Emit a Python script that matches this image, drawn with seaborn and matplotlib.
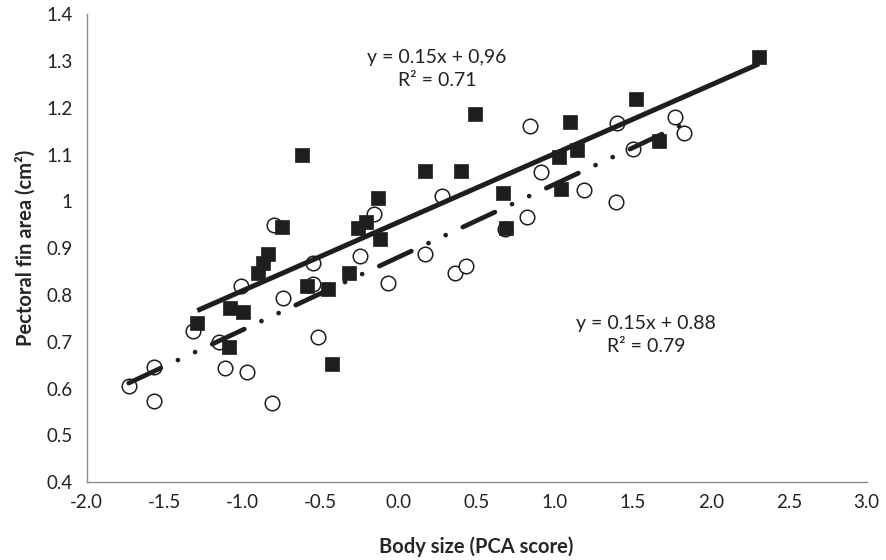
import numpy as np
import pandas as pd
import seaborn as sns
import matplotlib.pyplot as plt

# filled squares (solid trend line)
sq_x = [-1.29, -1.08, -1.00, -1.09, -0.90, -0.87, -0.84, -0.75, -0.62, -0.59,
        -0.45, -0.43, -0.32, -0.26, -0.21, -0.13, -0.12, 0.17, 0.40, 0.49,
        0.69, 0.67, 1.03, 1.04, 1.10, 1.14, 1.52, 1.67, 2.31]
sq_y = [0.740, 0.773, 0.764, 0.688, 0.847, 0.869, 0.887, 0.945, 1.099, 0.820,
        0.812, 0.653, 0.848, 0.943, 0.957, 1.008, 0.920, 1.065, 1.065, 1.187,
        0.944, 1.019, 1.094, 1.026, 1.170, 1.109, 1.219, 1.129, 1.308]

# open circles (dash-dot-dot trend line)
ci_x = [-1.73, -1.57, -1.57, -1.32, -1.15, -1.11, -1.01, -0.97, -0.81, -0.80,
        -0.74, -0.55, -0.55, -0.52, -0.25, -0.16, -0.07, 0.17, 0.28, 0.36,
        0.43, 0.68, 0.82, 0.84, 0.91, 1.19, 1.39, 1.40, 1.50, 1.77, 1.83]
ci_y = [0.606, 0.646, 0.574, 0.723, 0.700, 0.644, 0.820, 0.635, 0.569, 0.949,
        0.793, 0.868, 0.824, 0.710, 0.884, 0.974, 0.825, 0.888, 1.012, 0.848,
        0.863, 0.942, 0.967, 1.161, 1.062, 1.025, 0.998, 1.167, 1.112, 1.180, 1.146]

x_ticks = [-2.0, -1.5, -1.0, -0.5, 0.0, 0.5, 1.0, 1.5, 2.0, 2.5, 3.0]
y_ticks = [0.4, 0.5, 0.6, 0.7, 0.8, 0.9, 1.0, 1.1, 1.2, 1.3, 1.4]
y_tick_labels = ['0.4', '0.5', '0.6', '0.7', '0.8', '0.9', '1', '1.1', '1.2', '1.3', '1.4']

sq_df = pd.DataFrame({'x': sq_x, 'y': sq_y})
ci_df = pd.DataFrame({'x': ci_x, 'y': ci_y})

sns.set_style("white")
plt.rcParams['font.family'] = ['Lato', 'DejaVu Sans']

fig = plt.figure(figsize=(8.86, 5.6), dpi=100)
ax = fig.add_axes([0.0977, 0.1388, 0.8806, 0.8357])

dark = '#1e1e1e'
sns.scatterplot(data=ci_df, x='x', y='y', ax=ax, marker='o', s=110,
                facecolor='white', edgecolor=dark, linewidth=1.1, zorder=2)
sns.scatterplot(data=sq_df, x='x', y='y', ax=ax, marker='s', s=110,
                color=dark, edgecolor=dark, linewidth=0.5, zorder=2)

sns.regplot(data=sq_df, x='x', y='y', ax=ax, scatter=False, ci=None,
            line_kws={'color': dark, 'linewidth': 3.6, 'zorder': 3,
                      'solid_capstyle': 'butt'})
sns.regplot(data=ci_df, x='x', y='y', ax=ax, scatter=False, ci=None,
            line_kws={'color': dark, 'linewidth': 3.4, 'zorder': 3,
                      'linestyle': (0, (7.5, 4, 0.01, 4, 0.01, 4)),
                      'dash_capstyle': 'round'})

ax.set_xlim(-2.0, 3.0)
ax.set_ylim(0.4, 1.4)
ax.set_xticks(x_ticks)
ax.set_xticklabels([f'{v:.1f}' for v in x_ticks])
ax.set_yticks(y_ticks)
ax.set_yticklabels(y_tick_labels)
ax.tick_params(axis='both', direction='out', length=5, width=1, color='#8c8c8c',
               labelsize=13.5, labelcolor='#222222', pad=5)
ax.tick_params(axis='x', pad=3.5)
for side in ['top', 'right']:
    ax.spines[side].set_visible(False)
for side in ['left', 'bottom']:
    ax.spines[side].set_color('#8c8c8c')
    ax.spines[side].set_linewidth(1)

ax.set_xlabel('Body size (PCA score)', fontsize=14.5, fontweight='bold', labelpad=18)
ax.set_ylabel('Pectoral fin area (cm²)', fontsize=14.5, fontweight='bold', labelpad=8)

ax.text(0.246, 1.283, 'y = 0.15x + 0,96\nR² = 0.71', ha='center', va='center',
        fontsize=14, color='#222222', linespacing=1.45)
ax.text(1.587, 0.715, 'y = 0.15x + 0.88\nR² = 0.79', ha='center', va='center',
        fontsize=14, color='#222222', linespacing=1.45)

plt.savefig('out.png', dpi=100)
